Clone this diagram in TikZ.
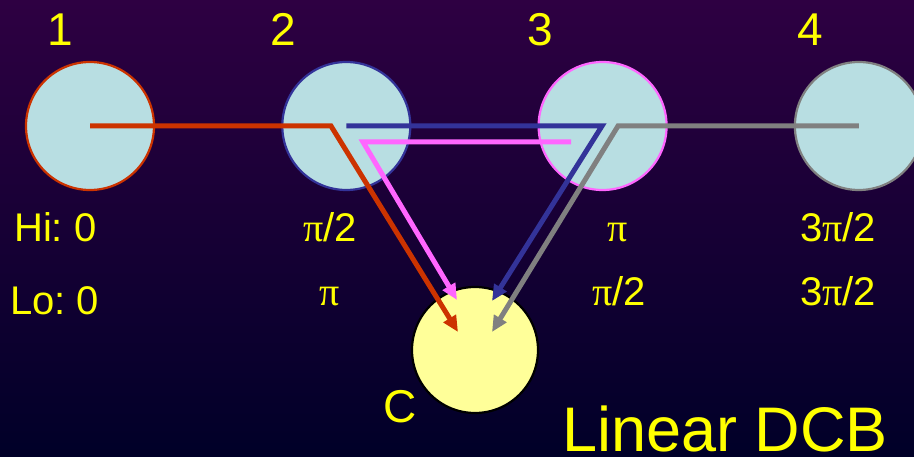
\documentclass[tikz,border=0pt]{standalone}
\usepackage{fontspec}
\setmainfont{Liberation Sans}
\newfontfamily\grfont{Liberation Serif}
\usetikzlibrary{positioning,arrows.meta}
\definecolor{tlogora}{RGB}{46,0,66}
\definecolor{tlosrodek}{RGB}{14,0,72}
\definecolor{tlodol}{RGB}{0,0,40}
\definecolor{jasny}{RGB}{184,222,226}
\definecolor{zolty}{RGB}{255,255,0}
\definecolor{jasnyzolty}{RGB}{255,255,153}
\definecolor{czerwony}{RGB}{204,51,0}
\definecolor{granat}{RGB}{51,51,153}
\definecolor{rozowy}{RGB}{255,102,255}
\definecolor{szary}{RGB}{128,128,128}
\newcommand{\pii}{{\grfont π}}
\frenchspacing
\begin{document}
\begin{tikzpicture}[x=1pt, y=-1pt, node distance=256.3pt,
    wezel/.style={circle, draw, line width=2.2pt, fill=jasny, minimum size=128pt},
    napis/.style={text=zolty, inner sep=0pt, anchor=base, font=\fontsize{40}{44}\selectfont},
    numer/.style={napis, font=\fontsize{46}{50}\selectfont},
    sciezka/.style={line width=5pt, -{Triangle[length=16pt,width=14pt]}}]
        % Tło
        \useasboundingbox (0,0) rectangle (914,457);
        \fill[top color=tlogora, middle color=tlosrodek, bottom color=tlodol] (0,0) rectangle (914,457);

        % Węzły
        \node[wezel, draw=czerwony] (w1) at (90,126) {};
        \node[wezel, draw=granat] (w2) [right of=w1] {};
        \node[wezel, draw=rozowy] (w3) [right of=w2] {};
        \node[wezel, draw=szary] (w4) [right of=w3] {};
        \node[circle, draw=black, line width=2.2pt, fill=jasnyzolty, minimum size=126pt] (c) at (475,350) {};

        % Numery
        \node[numer] (n1) at (60,46) {1};
        \node[numer] (n2) at (283,46) {2};
        \node[numer] (n3) at (540,46) {3};
        \node[numer] (n4) at (810,46) {4};
        \node[numer] (nc) at (400,422) {C};

        % Fazy
        \node[napis, anchor=base west] (hi) at (14,242) {Hi: 0};
        \node[napis, anchor=base west] (lo) at (10,315) {Lo: 0};
        \node[napis] (hi2) at (330,242) {\pii/2};
        \node[napis] (lo2) at (330,306) {\pii};
        \node[napis] (hi3) at (618,242) {\pii};
        \node[napis] (lo3) at (619,306) {\pii/2};
        \node[napis] (hi4) at (838,242) {3\pii/2};
        \node[napis] (lo4) at (838,306) {3\pii/2};

        % Punkty załamania i groty
        \coordinate (zc) at (331,126);
        \coordinate (gc) at (458,332);
        \coordinate (zg) at (602,126);
        \coordinate (gg) at (492,301);
        \coordinate (pr) at (571,142);
        \coordinate (zr) at (363,142);
        \coordinate (gr) at (457,300);
        \coordinate (zs) at (618,126);
        \coordinate (gs) at (492,332);

        % Ścieżki
        \draw[sciezka, czerwony] (w1.center) -- (zc) -- (gc);
        \draw[sciezka, granat] (w2.center) -- (zg) -- (gg);
        \draw[sciezka, rozowy] (pr) -- (zr) -- (gr);
        \draw[sciezka, szary] (w4.center) -- (zs) -- (gs);

        \node[text=zolty, inner sep=0pt, anchor=base, font=\fontsize{63}{66}\selectfont] (tytul) at (725,451) {Linear DCB};
    \end{tikzpicture}
\end{document}
